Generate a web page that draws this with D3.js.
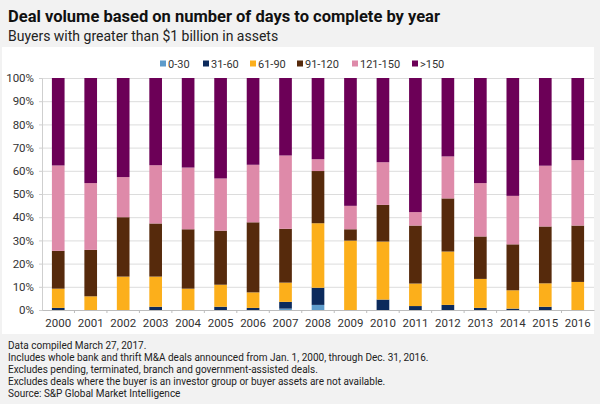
<!DOCTYPE html>
<html>
<head>
<meta charset="utf-8">
<script src="https://cdn.jsdelivr.net/npm/d3@7"></script>
<style>
  body { margin: 0; background: #f2f2f2; }
  svg { display: block; font-family: Roboto, "Noto Sans", sans-serif; }
</style>
</head>
<body>
<div id="chart"></div>
<script>
// Chart data (percent of deals per year)
const years = ["2000","2001","2002","2003","2004","2005","2006","2007","2008",
               "2009","2010","2011","2012","2013","2014","2015","2016"];
const bands = ["0-30", "31-60", "61-90", "91-120", "121-150", ">150"];
const d0_30    = [0, 0, 0, 0, 0, 0, 0, 0.6, 2.2, 0, 0, 0, 0, 0, 0, 0, 0];
const d31_60   = [0.9, 0, 0, 1.4, 0, 1.4, 0.9, 2.9, 7.4, 0, 4.5, 1.7, 2.2, 0.9, 0.6, 1.4, 0];
const d61_90   = [8.3, 5.9, 14.4, 13.0, 9.2, 9.5, 6.7, 8.3, 27.8, 29.9, 25.0, 9.7, 23.0, 12.5, 7.9, 10.1, 12.1];
const d91_120  = [16.3, 20.0, 25.6, 22.9, 25.6, 23.3, 30.2, 23.2, 22.5, 4.9, 15.8, 25.0, 22.9, 18.3, 19.8, 24.5, 24.3];
const d121_150 = [36.8, 28.8, 17.3, 25.1, 26.6, 22.5, 24.8, 31.6, 5.1, 10.1, 18.4, 5.8, 18.1, 23.0, 20.9, 26.2, 28.2];
const d150     = [37.7, 45.3, 42.7, 37.6, 38.6, 43.3, 37.4, 33.4, 35.0, 55.1, 36.3, 57.8, 33.8, 45.3, 50.8, 37.8, 35.4];
const yTicks = [0, 10, 20, 30, 40, 50, 60, 70, 80, 90, 100];
const colors = ["#5e9ccb", "#0c2a5c", "#fcaf1b", "#562a0c", "#de8aa9", "#6c0057"];
const notes = [
  "Data compiled March 27, 2017.",
  "Includes whole bank and thrift M&A deals announced from Jan. 1, 2000, through Dec. 31, 2016.",
  "Excludes pending, terminated, branch and government-assisted deals.",
  "Excludes deals where the buyer is an investor group or buyer assets are not available.",
  "Source: S&P Global Market Intelligence"
];

const series = [d0_30, d31_60, d61_90, d91_120, d121_150, d150];
const table = years.map((y, i) => {
  const row = { year: y };
  bands.forEach((b, k) => row[b] = series[k][i]);
  return row;
});

const W = 600, H = 404;
const svg = d3.select("#chart").append("svg")
  .attr("width", W).attr("height", H);

svg.append("rect").attr("width", W).attr("height", H).attr("fill", "#f2f2f2");
// white chart panel
svg.append("rect")
  .attr("x", 2).attr("y", 47).attr("width", 592).attr("height", 287)
  .attr("fill", "#fff");

// Titles
svg.append("text").attr("x", 8).attr("y", 22)
  .style("font-size", "16.5px").style("font-weight", "bold").style("fill", "#111")
  .text("Deal volume based on number of days to complete by year");
svg.append("text").attr("x", 8).attr("y", 41)
  .style("font-size", "14px").style("fill", "#222")
  .text("Buyers with greater than $1 billion in assets");

// Scales
const x = d3.scaleBand().domain(years).range([42, 594]).paddingInner(0.61).paddingOuter(0.305);
const y = d3.scaleLinear().domain([0, 100]).range([310, 78]);

// Grid lines
svg.append("g")
  .attr("transform", "translate(42,0)")
  .call(d3.axisLeft(y).tickValues(yTicks).tickSize(-552).tickFormat(""))
  .call(g => g.select(".domain").remove())
  .selectAll("line").attr("stroke", "#dcdcdc");

// Stacked bars
const stack = d3.stack().keys(bands)(table);
svg.append("g").selectAll("g")
  .data(stack).join("g")
  .attr("fill", (d, i) => colors[i])
  .selectAll("rect")
  .data(d => d).join("rect")
  .attr("x", d => x(d.data.year))
  .attr("width", x.bandwidth())
  .attr("y", d => y(d[1]))
  .attr("height", d => y(d[0]) - y(d[1]));

// Y axis
const yAxis = svg.append("g")
  .attr("transform", "translate(42,0)")
  .call(d3.axisLeft(y).tickValues(yTicks).tickSize(3).tickPadding(5).tickFormat(d => d + "%"));
yAxis.select(".domain").attr("stroke", "#cfcfcf");
yAxis.selectAll("line").attr("stroke", "#cfcfcf");
yAxis.selectAll("text").style("font-size", "11.5px").style("fill", "#333").style("font-family", "Roboto, sans-serif");

// X axis with ticks between bars
const xAxis = svg.append("g")
  .attr("transform", "translate(0,310)")
  .call(d3.axisBottom(x).tickSize(0).tickPadding(9));
xAxis.select(".domain").attr("stroke", "#bdbdbd");
xAxis.selectAll("text").style("font-size", "11.5px").style("fill", "#333").style("font-family", "Roboto, sans-serif");
xAxis.selectAll(".sep")
  .data(years.slice(1)).join("line")
  .attr("class", "sep")
  .attr("x1", d => x(d) - x.step() * x.paddingInner() / 2)
  .attr("x2", d => x(d) - x.step() * x.paddingInner() / 2)
  .attr("y1", 0).attr("y2", 3)
  .attr("stroke", "#bdbdbd");

// Legend
const legendX = [160, 203, 250, 297, 352, 412];
const legend = svg.append("g").selectAll("g")
  .data(bands).join("g")
  .attr("transform", (d, i) => `translate(${legendX[i]},64)`);
legend.append("rect")
  .attr("x", 0).attr("y", -3.5).attr("width", 6).attr("height", 6)
  .attr("fill", (d, i) => colors[i]);
legend.append("text")
  .attr("x", 8).attr("dy", "0.35em")
  .style("font-size", "11px").style("fill", "#333")
  .text(d => d);

// Footnotes
svg.append("g").selectAll("text")
  .data(notes).join("text")
  .attr("x", 8).attr("y", (d, i) => 349 + i * 12)
  .style("font-size", "10px").style("fill", "#222")
  .text(d => d);
</script>
</body>
</html>
